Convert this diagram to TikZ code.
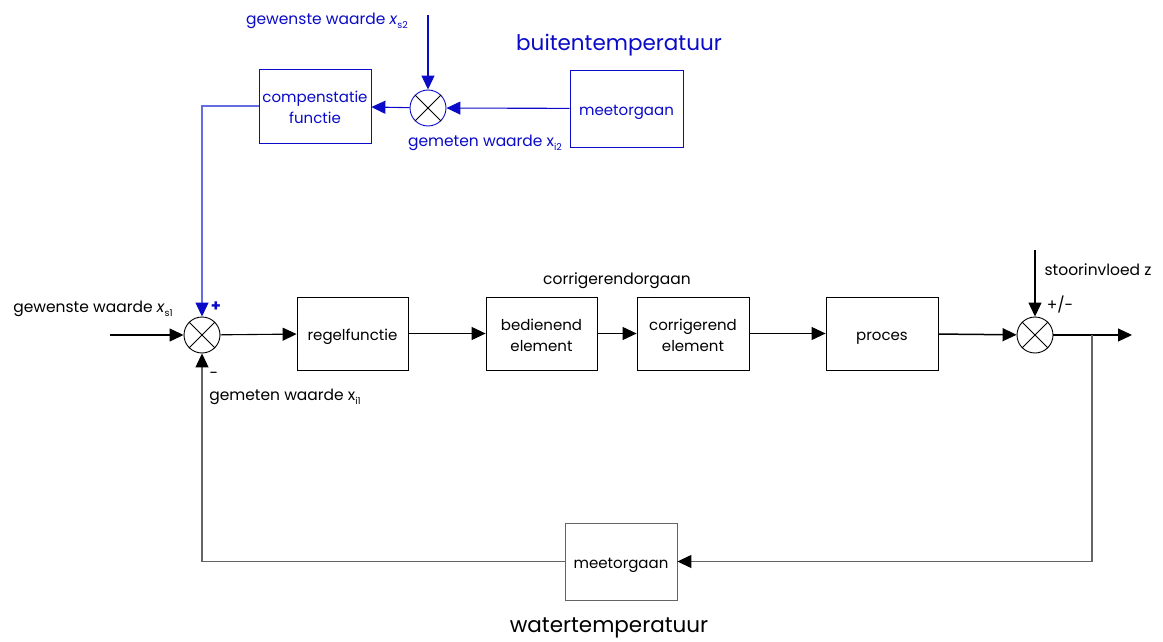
\documentclass[tikz,border=0pt]{standalone}
\usepackage{fontspec}
\setmainfont{Poppins}
\usetikzlibrary{arrows.meta}
\definecolor{dblue}{RGB}{10,10,200}
\definecolor{lblue}{RGB}{100,110,225}
\definecolor{lgray}{RGB}{100,100,100}
\newcommand{\sub}[1]{\raisebox{-0.4ex}{\fontsize{9.5}{9.5}\selectfont #1}}
\newcommand{\dn}[1]{\raisebox{-3pt}[\height][\depth]{\begin{tabular}{@{}c@{}}#1\end{tabular}}}
\tikzset{
  blk/.style={draw, line width=0.8pt, minimum width=112pt, minimum height=74pt, align=center, inner sep=0pt, font=\fontsize{15}{21}\selectfont},
  sumc/.style={draw, circle, line width=0.9pt, minimum size=36pt, inner sep=0pt},
  lbl/.style={font=\fontsize{15.5}{18}\selectfont, inner sep=0pt},
  big/.style={font=\fontsize{21.5}{24}\selectfont, inner sep=0pt},
  arr/.style={line width=1.1pt, -{Triangle[length=14pt,width=13pt]}},
}
\newcommand{\sumx}[1]{\draw[line width=0.8pt] (#1.135) -- (#1.-45) (#1.45) -- (#1.-135);}
\begin{document}
\begin{tikzpicture}[x=1pt,y=-1pt]
\useasboundingbox (0,0) rectangle (1163,642);
% top (blue)
\node[blk, draw=dblue, text=dblue] (comp) at (315,106) {\dn{compenstatie\\functie}};
\node[sumc, draw=dblue] (bsum) at (428,108) {};
\sumx{bsum}
\node[blk, draw=dblue, text=dblue, minimum width=113pt, minimum height=77pt] (bmeet) at (626.5,108.5) {\dn{meetorgaan}};
\coordinate (bin) at (428,15);
\draw[arr, dblue] (bin) -- (bsum);
\draw[arr, dblue] (bmeet) -- (bsum);
\draw[arr, dblue] (bsum) -- (comp);
\node[lbl, text=dblue] (gs2) at (327,21) {gewenste waarde \textit{x}\sub{s2}};
\node[big, text=dblue] (buiten) at (619,45) {buitentemperatuur};
\node[lbl, text=dblue] (gi2) at (485,143) {gemeten waarde x\sub{i2}};
% main loop
\node[sumc] (sum1) at (202,335) {};
\sumx{sum1}
\node[blk, minimum width=111pt, minimum height=73pt] (regel) at (352.5,333.5) {\dn{regelfunctie}};
\node[blk, minimum width=111pt, minimum height=73pt] (bedien) at (541.5,333.5) {\dn{bedienend\\element}};
\node[blk, minimum width=112pt, minimum height=73pt] (corr) at (693,333.5) {\dn{corrigerend\\element}};
\node[blk, minimum width=112pt, minimum height=73pt] (proces) at (882,333.5) {\dn{proces}};
\node[sumc] (sum2) at (1035,335) {};
\sumx{sum2}
\node[blk, minimum width=112pt, minimum height=77pt, draw=lgray] (wmeet) at (621,561.5) {\dn{meetorgaan}};
\coordinate (in1) at (110,335);
\coordinate (out) at (1132,335);
\coordinate (br) at (1092,335);
\coordinate (zin) at (1035,250);
\draw[line width=1.1pt, lblue, -{Triangle[length=14pt,width=13pt,dblue]}] (comp.west) -| (sum1.north);
\draw[arr] (in1) -- (sum1);
\draw[arr] (sum1) -- (regel);
\draw[arr] (regel) -- (bedien);
\draw[arr] (bedien) -- (corr);
\draw[arr] (corr) -- (proces);
\draw[arr, line width=1.5pt] (proces) -- (sum2);
\draw[arr] (zin) -- (sum2);
\draw[arr] (sum2) -- (out);
\draw[line width=1.1pt, lgray, -{Triangle[length=14pt,width=13pt,black]}] (br) |- (wmeet.east);
\draw[line width=1.1pt, lgray, -{Triangle[length=14pt,width=13pt,black]}] (wmeet.west) -| (sum1.south);
\node[lbl] (gs1) at (93,309) {gewenste waarde \textit{x}\sub{s1}};
\node[lbl, text=dblue, font=\fontsize{16}{16}\selectfont\bfseries] (plus) at (216,307) {+};
\node[lbl] (minus) at (214,375) {-};
\node[lbl] (gi1) at (285,397) {gemeten waarde x\sub{i1}};
\node[lbl] (corg) at (617,281) {corrigerendorgaan};
\node[lbl] (stoor) at (1098,270) {stoorinvloed z};
\node[lbl] (pm) at (1060,305) {+/-};
\node[big] (water) at (609,628) {watertemperatuur};
\end{tikzpicture}
\end{document}
